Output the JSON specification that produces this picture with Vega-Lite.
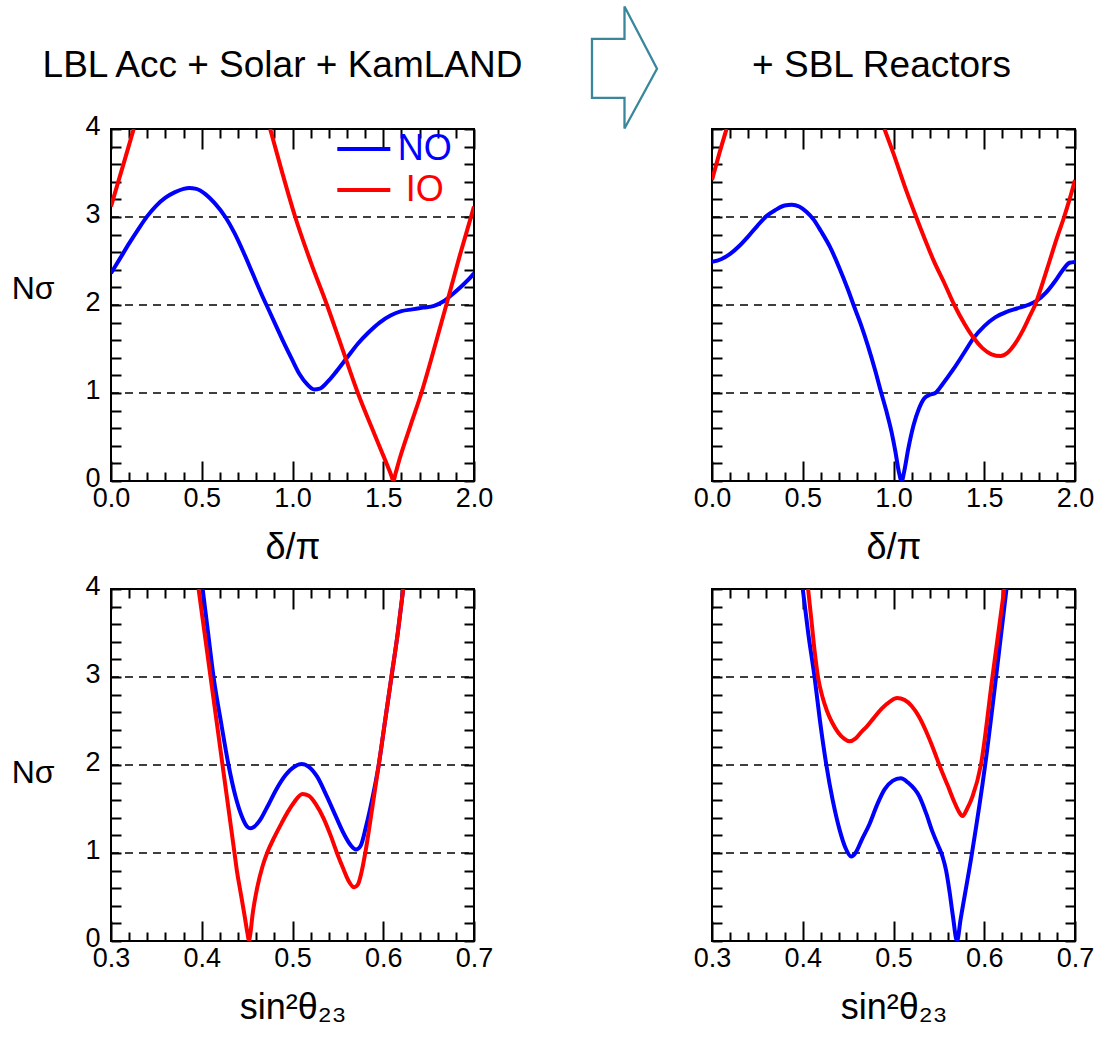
{
  "$schema": "https://vega.github.io/schema/vega-lite/v6.json",
  "autosize": {"type": "none"},
  "padding": {"left": 111, "top": 6, "right": 984, "bottom": 1031},
  "background": "white",
  "config": {
    "font": "Liberation Sans",
    "view": {"stroke": null},
    "axis": {
      "domain": false, "grid": false, "tickColor": "black", "tickWidth": 2,
      "labelColor": "black", "labelFont": "Liberation Sans", "labelFontSize": 27,
      "titleFont": "Liberation Sans", "titleFontWeight": "normal", "titleColor": "black",
      "labelFlush": false, "labelOverlap": false, "labelBound": false
    },
    "text": {"font": "Liberation Sans", "fontSize": 37, "color": "black"}
  },
  "datasets": {
    "headings": [{"panel": "left", "label": "LBL Acc + Solar + KamLAND"}, {"panel": "right", "label": "+ SBL Reactors"}],
    "top_left": [
      {"order": "NO", "branch": 1, "delta": 0, "nsigma": 2.36}, {"order": "NO", "branch": 1, "delta": 0.05, "nsigma": 2.53},
      {"order": "NO", "branch": 1, "delta": 0.1, "nsigma": 2.7}, {"order": "NO", "branch": 1, "delta": 0.15, "nsigma": 2.86},
      {"order": "NO", "branch": 1, "delta": 0.2, "nsigma": 3.01}, {"order": "NO", "branch": 1, "delta": 0.25, "nsigma": 3.13},
      {"order": "NO", "branch": 1, "delta": 0.3, "nsigma": 3.22}, {"order": "NO", "branch": 1, "delta": 0.35, "nsigma": 3.28},
      {"order": "NO", "branch": 1, "delta": 0.4, "nsigma": 3.32}, {"order": "NO", "branch": 1, "delta": 0.43, "nsigma": 3.33},
      {"order": "NO", "branch": 1, "delta": 0.47, "nsigma": 3.32}, {"order": "NO", "branch": 1, "delta": 0.52, "nsigma": 3.26},
      {"order": "NO", "branch": 1, "delta": 0.57, "nsigma": 3.16}, {"order": "NO", "branch": 1, "delta": 0.63, "nsigma": 3.0},
      {"order": "NO", "branch": 1, "delta": 0.68, "nsigma": 2.82}, {"order": "NO", "branch": 1, "delta": 0.73, "nsigma": 2.6},
      {"order": "NO", "branch": 1, "delta": 0.78, "nsigma": 2.36}, {"order": "NO", "branch": 1, "delta": 0.83, "nsigma": 2.12},
      {"order": "NO", "branch": 1, "delta": 0.87, "nsigma": 1.94}, {"order": "NO", "branch": 1, "delta": 0.91, "nsigma": 1.76},
      {"order": "NO", "branch": 1, "delta": 0.95, "nsigma": 1.58}, {"order": "NO", "branch": 1, "delta": 1.0, "nsigma": 1.37},
      {"order": "NO", "branch": 1, "delta": 1.04, "nsigma": 1.21}, {"order": "NO", "branch": 1, "delta": 1.08, "nsigma": 1.1},
      {"order": "NO", "branch": 1, "delta": 1.12, "nsigma": 1.04}, {"order": "NO", "branch": 1, "delta": 1.15, "nsigma": 1.05},
      {"order": "NO", "branch": 1, "delta": 1.19, "nsigma": 1.12}, {"order": "NO", "branch": 1, "delta": 1.24, "nsigma": 1.24},
      {"order": "NO", "branch": 1, "delta": 1.3, "nsigma": 1.4}, {"order": "NO", "branch": 1, "delta": 1.36, "nsigma": 1.56},
      {"order": "NO", "branch": 1, "delta": 1.42, "nsigma": 1.69}, {"order": "NO", "branch": 1, "delta": 1.48, "nsigma": 1.8},
      {"order": "NO", "branch": 1, "delta": 1.54, "nsigma": 1.88}, {"order": "NO", "branch": 1, "delta": 1.6, "nsigma": 1.93},
      {"order": "NO", "branch": 1, "delta": 1.66, "nsigma": 1.95}, {"order": "NO", "branch": 1, "delta": 1.72, "nsigma": 1.97},
      {"order": "NO", "branch": 1, "delta": 1.78, "nsigma": 1.99}, {"order": "NO", "branch": 1, "delta": 1.83, "nsigma": 2.04},
      {"order": "NO", "branch": 1, "delta": 1.88, "nsigma": 2.12}, {"order": "NO", "branch": 1, "delta": 1.93, "nsigma": 2.21},
      {"order": "NO", "branch": 1, "delta": 1.97, "nsigma": 2.29}, {"order": "NO", "branch": 1, "delta": 2.0, "nsigma": 2.36},
      {"order": "IO", "branch": 1, "delta": 0, "nsigma": 3.12}, {"order": "IO", "branch": 1, "delta": 0.04, "nsigma": 3.4},
      {"order": "IO", "branch": 1, "delta": 0.08, "nsigma": 3.68}, {"order": "IO", "branch": 1, "delta": 0.125, "nsigma": 4.0},
      {"order": "IO", "branch": 2, "delta": 0.877, "nsigma": 4.0}, {"order": "IO", "branch": 2, "delta": 0.94, "nsigma": 3.53},
      {"order": "IO", "branch": 2, "delta": 1.015, "nsigma": 3.0}, {"order": "IO", "branch": 2, "delta": 1.1, "nsigma": 2.49},
      {"order": "IO", "branch": 2, "delta": 1.19, "nsigma": 2.0}, {"order": "IO", "branch": 2, "delta": 1.27, "nsigma": 1.53},
      {"order": "IO", "branch": 2, "delta": 1.36, "nsigma": 1.0}, {"order": "IO", "branch": 2, "delta": 1.45, "nsigma": 0.54},
      {"order": "IO", "branch": 2, "delta": 1.51, "nsigma": 0.24}, {"order": "IO", "branch": 2, "delta": 1.545, "nsigma": 0.06},
      {"order": "IO", "branch": 2, "delta": 1.556, "nsigma": 0.0}, {"order": "IO", "branch": 2, "delta": 1.567, "nsigma": 0.08},
      {"order": "IO", "branch": 2, "delta": 1.59, "nsigma": 0.25}, {"order": "IO", "branch": 2, "delta": 1.65, "nsigma": 0.63},
      {"order": "IO", "branch": 2, "delta": 1.71, "nsigma": 1.0}, {"order": "IO", "branch": 2, "delta": 1.78, "nsigma": 1.5},
      {"order": "IO", "branch": 2, "delta": 1.85, "nsigma": 2.02}, {"order": "IO", "branch": 2, "delta": 1.92, "nsigma": 2.55},
      {"order": "IO", "branch": 2, "delta": 2.0, "nsigma": 3.12}
    ],
    "top_right": [
      {"order": "NO", "branch": 1, "delta": 0, "nsigma": 2.49}, {"order": "NO", "branch": 1, "delta": 0.05, "nsigma": 2.52},
      {"order": "NO", "branch": 1, "delta": 0.1, "nsigma": 2.58}, {"order": "NO", "branch": 1, "delta": 0.15, "nsigma": 2.67},
      {"order": "NO", "branch": 1, "delta": 0.2, "nsigma": 2.78}, {"order": "NO", "branch": 1, "delta": 0.25, "nsigma": 2.9},
      {"order": "NO", "branch": 1, "delta": 0.3, "nsigma": 3.01}, {"order": "NO", "branch": 1, "delta": 0.35, "nsigma": 3.08},
      {"order": "NO", "branch": 1, "delta": 0.4, "nsigma": 3.13}, {"order": "NO", "branch": 1, "delta": 0.44, "nsigma": 3.14},
      {"order": "NO", "branch": 1, "delta": 0.48, "nsigma": 3.12}, {"order": "NO", "branch": 1, "delta": 0.52, "nsigma": 3.06},
      {"order": "NO", "branch": 1, "delta": 0.56, "nsigma": 2.97}, {"order": "NO", "branch": 1, "delta": 0.6, "nsigma": 2.84},
      {"order": "NO", "branch": 1, "delta": 0.65, "nsigma": 2.66}, {"order": "NO", "branch": 1, "delta": 0.7, "nsigma": 2.43},
      {"order": "NO", "branch": 1, "delta": 0.75, "nsigma": 2.17}, {"order": "NO", "branch": 1, "delta": 0.78, "nsigma": 2.0},
      {"order": "NO", "branch": 1, "delta": 0.82, "nsigma": 1.78}, {"order": "NO", "branch": 1, "delta": 0.86, "nsigma": 1.53},
      {"order": "NO", "branch": 1, "delta": 0.9, "nsigma": 1.25}, {"order": "NO", "branch": 1, "delta": 0.93, "nsigma": 1.02},
      {"order": "NO", "branch": 1, "delta": 0.96, "nsigma": 0.8}, {"order": "NO", "branch": 1, "delta": 0.99, "nsigma": 0.55},
      {"order": "NO", "branch": 1, "delta": 1.01, "nsigma": 0.34}, {"order": "NO", "branch": 1, "delta": 1.03, "nsigma": 0.1},
      {"order": "NO", "branch": 1, "delta": 1.045, "nsigma": 0.0}, {"order": "NO", "branch": 1, "delta": 1.06, "nsigma": 0.12},
      {"order": "NO", "branch": 1, "delta": 1.08, "nsigma": 0.35}, {"order": "NO", "branch": 1, "delta": 1.11, "nsigma": 0.63},
      {"order": "NO", "branch": 1, "delta": 1.14, "nsigma": 0.82}, {"order": "NO", "branch": 1, "delta": 1.17, "nsigma": 0.94},
      {"order": "NO", "branch": 1, "delta": 1.2, "nsigma": 0.98}, {"order": "NO", "branch": 1, "delta": 1.23, "nsigma": 1.0},
      {"order": "NO", "branch": 1, "delta": 1.27, "nsigma": 1.1}, {"order": "NO", "branch": 1, "delta": 1.33, "nsigma": 1.27},
      {"order": "NO", "branch": 1, "delta": 1.39, "nsigma": 1.46}, {"order": "NO", "branch": 1, "delta": 1.44, "nsigma": 1.62},
      {"order": "NO", "branch": 1, "delta": 1.5, "nsigma": 1.76}, {"order": "NO", "branch": 1, "delta": 1.56, "nsigma": 1.86},
      {"order": "NO", "branch": 1, "delta": 1.62, "nsigma": 1.92}, {"order": "NO", "branch": 1, "delta": 1.68, "nsigma": 1.96},
      {"order": "NO", "branch": 1, "delta": 1.74, "nsigma": 2.0}, {"order": "NO", "branch": 1, "delta": 1.79, "nsigma": 2.05},
      {"order": "NO", "branch": 1, "delta": 1.84, "nsigma": 2.14}, {"order": "NO", "branch": 1, "delta": 1.89, "nsigma": 2.27},
      {"order": "NO", "branch": 1, "delta": 1.93, "nsigma": 2.39}, {"order": "NO", "branch": 1, "delta": 1.97, "nsigma": 2.48},
      {"order": "NO", "branch": 1, "delta": 2.0, "nsigma": 2.49},
      {"order": "IO", "branch": 1, "delta": 0, "nsigma": 3.42}, {"order": "IO", "branch": 1, "delta": 0.04, "nsigma": 3.72},
      {"order": "IO", "branch": 1, "delta": 0.08, "nsigma": 4.0},
      {"order": "IO", "branch": 2, "delta": 0.95, "nsigma": 4.0}, {"order": "IO", "branch": 2, "delta": 1.0, "nsigma": 3.72},
      {"order": "IO", "branch": 2, "delta": 1.06, "nsigma": 3.36}, {"order": "IO", "branch": 2, "delta": 1.125, "nsigma": 3.0},
      {"order": "IO", "branch": 2, "delta": 1.18, "nsigma": 2.71}, {"order": "IO", "branch": 2, "delta": 1.22, "nsigma": 2.51},
      {"order": "IO", "branch": 2, "delta": 1.28, "nsigma": 2.25}, {"order": "IO", "branch": 2, "delta": 1.335, "nsigma": 2.0},
      {"order": "IO", "branch": 2, "delta": 1.39, "nsigma": 1.79}, {"order": "IO", "branch": 2, "delta": 1.44, "nsigma": 1.63},
      {"order": "IO", "branch": 2, "delta": 1.49, "nsigma": 1.51}, {"order": "IO", "branch": 2, "delta": 1.54, "nsigma": 1.44},
      {"order": "IO", "branch": 2, "delta": 1.59, "nsigma": 1.42}, {"order": "IO", "branch": 2, "delta": 1.63, "nsigma": 1.46},
      {"order": "IO", "branch": 2, "delta": 1.67, "nsigma": 1.56}, {"order": "IO", "branch": 2, "delta": 1.71, "nsigma": 1.7},
      {"order": "IO", "branch": 2, "delta": 1.75, "nsigma": 1.87}, {"order": "IO", "branch": 2, "delta": 1.78, "nsigma": 2.0},
      {"order": "IO", "branch": 2, "delta": 1.82, "nsigma": 2.24}, {"order": "IO", "branch": 2, "delta": 1.86, "nsigma": 2.5},
      {"order": "IO", "branch": 2, "delta": 1.9, "nsigma": 2.76}, {"order": "IO", "branch": 2, "delta": 1.94, "nsigma": 3.0},
      {"order": "IO", "branch": 2, "delta": 1.97, "nsigma": 3.2}, {"order": "IO", "branch": 2, "delta": 2.0, "nsigma": 3.42}
    ],
    "bottom_left": [
      {"order": "NO", "s23": 0.401, "nsigma": 4.0}, {"order": "NO", "s23": 0.407, "nsigma": 3.5},
      {"order": "NO", "s23": 0.413, "nsigma": 3.0}, {"order": "NO", "s23": 0.421, "nsigma": 2.5},
      {"order": "NO", "s23": 0.4295, "nsigma": 2.0}, {"order": "NO", "s23": 0.437, "nsigma": 1.65},
      {"order": "NO", "s23": 0.444, "nsigma": 1.42}, {"order": "NO", "s23": 0.45, "nsigma": 1.3},
      {"order": "NO", "s23": 0.454, "nsigma": 1.28}, {"order": "NO", "s23": 0.458, "nsigma": 1.3},
      {"order": "NO", "s23": 0.464, "nsigma": 1.37}, {"order": "NO", "s23": 0.472, "nsigma": 1.52},
      {"order": "NO", "s23": 0.482, "nsigma": 1.72}, {"order": "NO", "s23": 0.492, "nsigma": 1.88},
      {"order": "NO", "s23": 0.502, "nsigma": 1.98}, {"order": "NO", "s23": 0.51, "nsigma": 2.01},
      {"order": "NO", "s23": 0.518, "nsigma": 1.98}, {"order": "NO", "s23": 0.527, "nsigma": 1.87},
      {"order": "NO", "s23": 0.538, "nsigma": 1.64}, {"order": "NO", "s23": 0.548, "nsigma": 1.41},
      {"order": "NO", "s23": 0.557, "nsigma": 1.21}, {"order": "NO", "s23": 0.564, "nsigma": 1.09},
      {"order": "NO", "s23": 0.57, "nsigma": 1.04}, {"order": "NO", "s23": 0.575, "nsigma": 1.08},
      {"order": "NO", "s23": 0.581, "nsigma": 1.3}, {"order": "NO", "s23": 0.588, "nsigma": 1.62},
      {"order": "NO", "s23": 0.595, "nsigma": 2.0}, {"order": "NO", "s23": 0.602, "nsigma": 2.5},
      {"order": "NO", "s23": 0.609, "nsigma": 3.0}, {"order": "NO", "s23": 0.616, "nsigma": 3.5},
      {"order": "NO", "s23": 0.622, "nsigma": 4.0},
      {"order": "IO", "s23": 0.3965, "nsigma": 4.0}, {"order": "IO", "s23": 0.4097, "nsigma": 3.0},
      {"order": "IO", "s23": 0.4229, "nsigma": 2.0}, {"order": "IO", "s23": 0.4361, "nsigma": 1.0},
      {"order": "IO", "s23": 0.4387, "nsigma": 0.8}, {"order": "IO", "s23": 0.4425, "nsigma": 0.57},
      {"order": "IO", "s23": 0.447, "nsigma": 0.3}, {"order": "IO", "s23": 0.4505, "nsigma": 0.08},
      {"order": "IO", "s23": 0.452, "nsigma": 0.0}, {"order": "IO", "s23": 0.4535, "nsigma": 0.08},
      {"order": "IO", "s23": 0.456, "nsigma": 0.3}, {"order": "IO", "s23": 0.461, "nsigma": 0.6},
      {"order": "IO", "s23": 0.467, "nsigma": 0.85}, {"order": "IO", "s23": 0.472, "nsigma": 1.0},
      {"order": "IO", "s23": 0.48, "nsigma": 1.18}, {"order": "IO", "s23": 0.488, "nsigma": 1.34},
      {"order": "IO", "s23": 0.495, "nsigma": 1.47}, {"order": "IO", "s23": 0.502, "nsigma": 1.58},
      {"order": "IO", "s23": 0.511, "nsigma": 1.67}, {"order": "IO", "s23": 0.518, "nsigma": 1.65},
      {"order": "IO", "s23": 0.526, "nsigma": 1.55}, {"order": "IO", "s23": 0.534, "nsigma": 1.4},
      {"order": "IO", "s23": 0.542, "nsigma": 1.2}, {"order": "IO", "s23": 0.549, "nsigma": 1.0},
      {"order": "IO", "s23": 0.556, "nsigma": 0.82}, {"order": "IO", "s23": 0.562, "nsigma": 0.68},
      {"order": "IO", "s23": 0.568, "nsigma": 0.61}, {"order": "IO", "s23": 0.572, "nsigma": 0.64},
      {"order": "IO", "s23": 0.576, "nsigma": 0.78}, {"order": "IO", "s23": 0.581, "nsigma": 1.05},
      {"order": "IO", "s23": 0.588, "nsigma": 1.52}, {"order": "IO", "s23": 0.595, "nsigma": 2.0},
      {"order": "IO", "s23": 0.602, "nsigma": 2.5}, {"order": "IO", "s23": 0.609, "nsigma": 3.0},
      {"order": "IO", "s23": 0.616, "nsigma": 3.5}, {"order": "IO", "s23": 0.622, "nsigma": 4.0}
    ],
    "bottom_right": [
      {"order": "NO", "s23": 0.4, "nsigma": 4.0}, {"order": "NO", "s23": 0.406, "nsigma": 3.5},
      {"order": "NO", "s23": 0.413, "nsigma": 3.0}, {"order": "NO", "s23": 0.419, "nsigma": 2.5},
      {"order": "NO", "s23": 0.426, "nsigma": 2.0}, {"order": "NO", "s23": 0.433, "nsigma": 1.6},
      {"order": "NO", "s23": 0.4407, "nsigma": 1.26}, {"order": "NO", "s23": 0.447, "nsigma": 1.06},
      {"order": "NO", "s23": 0.4535, "nsigma": 0.96}, {"order": "NO", "s23": 0.458, "nsigma": 1.0},
      {"order": "NO", "s23": 0.465, "nsigma": 1.15}, {"order": "NO", "s23": 0.4736, "nsigma": 1.33},
      {"order": "NO", "s23": 0.482, "nsigma": 1.55}, {"order": "NO", "s23": 0.49, "nsigma": 1.72},
      {"order": "NO", "s23": 0.499, "nsigma": 1.82}, {"order": "NO", "s23": 0.508, "nsigma": 1.85},
      {"order": "NO", "s23": 0.516, "nsigma": 1.8}, {"order": "NO", "s23": 0.5286, "nsigma": 1.64},
      {"order": "NO", "s23": 0.536, "nsigma": 1.45}, {"order": "NO", "s23": 0.543, "nsigma": 1.24},
      {"order": "NO", "s23": 0.549, "nsigma": 1.09}, {"order": "NO", "s23": 0.554, "nsigma": 0.96},
      {"order": "NO", "s23": 0.558, "nsigma": 0.8}, {"order": "NO", "s23": 0.5615, "nsigma": 0.58},
      {"order": "NO", "s23": 0.5655, "nsigma": 0.28}, {"order": "NO", "s23": 0.57, "nsigma": 0.0},
      {"order": "NO", "s23": 0.574, "nsigma": 0.25}, {"order": "NO", "s23": 0.5865, "nsigma": 1.0},
      {"order": "NO", "s23": 0.601, "nsigma": 2.0}, {"order": "NO", "s23": 0.613, "nsigma": 3.0},
      {"order": "NO", "s23": 0.6245, "nsigma": 4.0},
      {"order": "IO", "s23": 0.4059, "nsigma": 4.0}, {"order": "IO", "s23": 0.4095, "nsigma": 3.65},
      {"order": "IO", "s23": 0.413, "nsigma": 3.3}, {"order": "IO", "s23": 0.4168, "nsigma": 3.0},
      {"order": "IO", "s23": 0.4215, "nsigma": 2.78}, {"order": "IO", "s23": 0.4265, "nsigma": 2.62},
      {"order": "IO", "s23": 0.4325, "nsigma": 2.48}, {"order": "IO", "s23": 0.439, "nsigma": 2.37},
      {"order": "IO", "s23": 0.4455, "nsigma": 2.3}, {"order": "IO", "s23": 0.4516, "nsigma": 2.27},
      {"order": "IO", "s23": 0.458, "nsigma": 2.3}, {"order": "IO", "s23": 0.465, "nsigma": 2.38},
      {"order": "IO", "s23": 0.47, "nsigma": 2.43}, {"order": "IO", "s23": 0.478, "nsigma": 2.53},
      {"order": "IO", "s23": 0.487, "nsigma": 2.64}, {"order": "IO", "s23": 0.496, "nsigma": 2.72},
      {"order": "IO", "s23": 0.504, "nsigma": 2.76}, {"order": "IO", "s23": 0.512, "nsigma": 2.74},
      {"order": "IO", "s23": 0.52, "nsigma": 2.67}, {"order": "IO", "s23": 0.528, "nsigma": 2.55},
      {"order": "IO", "s23": 0.536, "nsigma": 2.38}, {"order": "IO", "s23": 0.544, "nsigma": 2.18},
      {"order": "IO", "s23": 0.552, "nsigma": 1.96}, {"order": "IO", "s23": 0.56, "nsigma": 1.76},
      {"order": "IO", "s23": 0.567, "nsigma": 1.58}, {"order": "IO", "s23": 0.572, "nsigma": 1.47},
      {"order": "IO", "s23": 0.5762, "nsigma": 1.42}, {"order": "IO", "s23": 0.581, "nsigma": 1.5},
      {"order": "IO", "s23": 0.587, "nsigma": 1.64}, {"order": "IO", "s23": 0.5963, "nsigma": 2.0},
      {"order": "IO", "s23": 0.609, "nsigma": 3.0}, {"order": "IO", "s23": 0.622, "nsigma": 4.0}
    ],
    "sigma_levels": [{"nsigma": 1}, {"nsigma": 2}, {"nsigma": 3}]
  },
  "columns": 4,
  "spacing": {"row": 0, "column": 0},
  "align": "each",
  "bounds": "flush",
  "resolve": {"scale": {"color": "independent"}, "legend": {"color": "independent"}},
  "concat": [
    {
      "width": 363, "height": 123,
      "data": {"name": "headings"},
      "transform": [{"filter": "datum.panel === 'left'"}],
      "mark": {"type": "text", "baseline": "alphabetic", "align": "center", "dx": -10, "dy": 9},
      "encoding": {"text": {"field": "label"}}
    },
    {"width": 63, "height": 1, "data": {"values": []}, "mark": "text"},
    {
      "width": 175, "height": 123,
      "data": {"values": [{"step": "add SBL reactors"}]},
      "mark": {
        "type": "point", "filled": false, "opacity": 1,
        "shape": "M-0.533,-0.47L0,-0.47L0,-1L0.533,0.02L0,1L0,0.497L-0.533,0.497Z",
        "size": 14884, "stroke": "#3a879c", "strokeWidth": 2.3, "strokeJoin": "miter"
      }
    },
    {
      "width": 363, "height": 123,
      "data": {"name": "headings"},
      "transform": [{"filter": "datum.panel === 'right'"}],
      "mark": {"type": "text", "baseline": "alphabetic", "align": "center", "dx": -12, "dy": 9},
      "encoding": {"text": {"field": "label"}}
    },
    {
      "width": 363, "height": 352,
      "view": {"stroke": "black", "strokeWidth": 2},
      "layer": [
        {
          "data": {"name": "sigma_levels"},
          "mark": {"type": "rule", "color": "black", "strokeWidth": 1.5, "strokeDash": [8, 6]},
          "encoding": {
            "x": {"datum": 0, "type": "quantitative", "scale": {"domain": [0, 2], "nice": false},
              "axis": {"orient": "top", "values": [0,0.1,0.2,0.3,0.4,0.5,0.6,0.7,0.8,0.9,1,1.1,1.2,1.3,1.4,1.5,1.6,1.7,1.8,1.9,2],
                "tickSize": {"condition": {"test": "abs(datum.value*2 - round(datum.value*2)) < 0.001", "value": -20}, "value": -9},
                "labels": false, "title": null}},
            "x2": {"datum": 2},
            "y": {"field": "nsigma", "type": "quantitative", "scale": {"domain": [0, 4], "nice": false},
              "axis": {"orient": "right", "values": [0,0.2,0.4,0.6,0.8,1,1.2,1.4,1.6,1.8,2,2.2,2.4,2.6,2.8,3,3.2,3.4,3.6,3.8,4],
                "tickSize": -10, "labels": false, "title": null}}
          }
        },
        {
          "data": {"name": "top_left"},
          "mark": {"type": "line", "strokeWidth": 4, "interpolate": "monotone", "clip": true},
          "encoding": {
            "x": {"field": "delta", "type": "quantitative", "scale": {"domain": [0, 2], "nice": false},
              "axis": {"orient": "bottom", "values": [0,0.1,0.2,0.3,0.4,0.5,0.6,0.7,0.8,0.9,1,1.1,1.2,1.3,1.4,1.5,1.6,1.7,1.8,1.9,2],
                "tickSize": {"condition": {"test": "abs(datum.value*2 - round(datum.value*2)) < 0.001", "value": -20}, "value": -9},
                "labelExpr": "abs(datum.value*2 - round(datum.value*2)) < 0.001 ? format(datum.value, '.1f') : ''",
                "labelPadding": 24, "title": "δ/π", "titleFontSize": 36, "titlePadding": 8}},
            "y": {"field": "nsigma", "type": "quantitative", "scale": {"domain": [0, 4], "nice": false},
              "axis": {"orient": "left", "values": [0,0.2,0.4,0.6,0.8,1,1.2,1.4,1.6,1.8,2,2.2,2.4,2.6,2.8,3,3.2,3.4,3.6,3.8,4],
                "tickSize": -10, "labelPadding": 21, "labelOffset": -3,
                "labelExpr": "abs(datum.value - round(datum.value)) < 0.001 ? format(datum.value, 'd') : ''",
                "title": "Nσ", "titleFontSize": 32, "titleAngle": 0, "titleAlign": "right", "titleBaseline": "middle", "titleX": -57, "titleY": 159}},
            "color": {"field": "order", "type": "nominal", "scale": {"domain": ["NO", "IO"], "range": ["#0000ff", "#ff0000"]},
              "legend": {"orient": "none", "legendX": 232.8, "legendY": 0, "title": null, "padding": 0,
                "symbolType": "M-1.5,0H1.5", "symbolSize": 1248, "symbolStrokeWidth": 4,
                "labelFontSize": 36, "labelFont": "Liberation Sans", "labelAlign": "center", "labelBaseline": "middle",
                "labelOffset": 41, "rowPadding": 3,
                "labelColor": {"expr": "datum.value === 'NO' ? '#0000ff' : '#ff0000'"}}},
            "detail": {"field": "branch"}
          }
        }
      ],
      "resolve": {"axis": {"x": "independent", "y": "independent"}}
    },
    {"width": 1, "height": 1, "data": {"values": []}, "mark": "text"},
    {"width": 1, "height": 1, "data": {"values": []}, "mark": "text"},
    {
      "width": 363, "height": 352,
      "view": {"stroke": "black", "strokeWidth": 2},
      "layer": [
        {
          "data": {"name": "sigma_levels"},
          "mark": {"type": "rule", "color": "black", "strokeWidth": 1.5, "strokeDash": [8, 6]},
          "encoding": {
            "x": {"datum": 0, "type": "quantitative", "scale": {"domain": [0, 2], "nice": false},
              "axis": {"orient": "top", "values": [0,0.1,0.2,0.3,0.4,0.5,0.6,0.7,0.8,0.9,1,1.1,1.2,1.3,1.4,1.5,1.6,1.7,1.8,1.9,2],
                "tickSize": {"condition": {"test": "abs(datum.value*2 - round(datum.value*2)) < 0.001", "value": -20}, "value": -9},
                "labels": false, "title": null}},
            "x2": {"datum": 2},
            "y": {"field": "nsigma", "type": "quantitative", "scale": {"domain": [0, 4], "nice": false},
              "axis": {"orient": "right", "values": [0,0.2,0.4,0.6,0.8,1,1.2,1.4,1.6,1.8,2,2.2,2.4,2.6,2.8,3,3.2,3.4,3.6,3.8,4],
                "tickSize": -10, "labels": false, "title": null}}
          }
        },
        {
          "data": {"name": "top_right"},
          "mark": {"type": "line", "strokeWidth": 4, "interpolate": "monotone", "clip": true},
          "encoding": {
            "x": {"field": "delta", "type": "quantitative", "scale": {"domain": [0, 2], "nice": false},
              "axis": {"orient": "bottom", "values": [0,0.1,0.2,0.3,0.4,0.5,0.6,0.7,0.8,0.9,1,1.1,1.2,1.3,1.4,1.5,1.6,1.7,1.8,1.9,2],
                "tickSize": {"condition": {"test": "abs(datum.value*2 - round(datum.value*2)) < 0.001", "value": -20}, "value": -9},
                "labelExpr": "abs(datum.value*2 - round(datum.value*2)) < 0.001 ? format(datum.value, '.1f') : ''",
                "labelPadding": 24, "title": "δ/π", "titleFontSize": 36, "titlePadding": 8}},
            "y": {"field": "nsigma", "type": "quantitative", "scale": {"domain": [0, 4], "nice": false},
              "axis": {"orient": "left", "values": [0,0.2,0.4,0.6,0.8,1,1.2,1.4,1.6,1.8,2,2.2,2.4,2.6,2.8,3,3.2,3.4,3.6,3.8,4],
                "tickSize": -10, "labels": false, "title": null}},
            "color": {"field": "order", "type": "nominal", "scale": {"domain": ["NO", "IO"], "range": ["#0000ff", "#ff0000"]}, "legend": null},
            "detail": {"field": "branch"}
          }
        }
      ],
      "resolve": {"axis": {"x": "independent", "y": "independent"}}
    },
    {"width": 1, "height": 108, "data": {"values": []}, "mark": "text"},
    {"width": 1, "height": 1, "data": {"values": []}, "mark": "text"},
    {"width": 1, "height": 1, "data": {"values": []}, "mark": "text"},
    {"width": 1, "height": 1, "data": {"values": []}, "mark": "text"},
    {
      "width": 363, "height": 352,
      "view": {"stroke": "black", "strokeWidth": 2},
      "layer": [
        {
          "data": {"name": "sigma_levels"},
          "mark": {"type": "rule", "color": "black", "strokeWidth": 1.5, "strokeDash": [8, 6]},
          "encoding": {
            "x": {"datum": 0.3, "type": "quantitative", "scale": {"domain": [0.3, 0.7], "nice": false, "zero": false},
              "axis": {"orient": "top", "values": [0.3,0.32,0.34,0.36,0.38,0.4,0.42,0.44,0.46,0.48,0.5,0.52,0.54,0.56,0.58,0.6,0.62,0.64,0.66,0.68,0.7],
                "tickSize": {"condition": {"test": "abs(datum.value*10 - round(datum.value*10)) < 0.001", "value": -20}, "value": -9},
                "labels": false, "title": null}},
            "x2": {"datum": 0.7},
            "y": {"field": "nsigma", "type": "quantitative", "scale": {"domain": [0, 4], "nice": false},
              "axis": {"orient": "right", "values": [0,0.2,0.4,0.6,0.8,1,1.2,1.4,1.6,1.8,2,2.2,2.4,2.6,2.8,3,3.2,3.4,3.6,3.8,4],
                "tickSize": -10, "labels": false, "title": null}}
          }
        },
        {
          "data": {"name": "bottom_left"},
          "mark": {"type": "line", "strokeWidth": 4, "interpolate": "monotone", "clip": true},
          "encoding": {
            "x": {"field": "s23", "type": "quantitative", "scale": {"domain": [0.3, 0.7], "nice": false, "zero": false},
              "axis": {"orient": "bottom", "values": [0.3,0.32,0.34,0.36,0.38,0.4,0.42,0.44,0.46,0.48,0.5,0.52,0.54,0.56,0.58,0.6,0.62,0.64,0.66,0.68,0.7],
                "tickSize": {"condition": {"test": "abs(datum.value*10 - round(datum.value*10)) < 0.001", "value": -20}, "value": -9},
                "labelExpr": "abs(datum.value*10 - round(datum.value*10)) < 0.001 ? format(datum.value, '.1f') : ''",
                "labelPadding": 24, "title": "sin²θ₂₃", "titleFontSize": 36, "titlePadding": 8}},
            "y": {"field": "nsigma", "type": "quantitative", "scale": {"domain": [0, 4], "nice": false},
              "axis": {"orient": "left", "values": [0,0.2,0.4,0.6,0.8,1,1.2,1.4,1.6,1.8,2,2.2,2.4,2.6,2.8,3,3.2,3.4,3.6,3.8,4],
                "tickSize": -10, "labelPadding": 21, "labelOffset": -3,
                "labelExpr": "abs(datum.value - round(datum.value)) < 0.001 ? format(datum.value, 'd') : ''",
                "title": "Nσ", "titleFontSize": 32, "titleAngle": 0, "titleAlign": "right", "titleBaseline": "middle", "titleX": -57, "titleY": 183}},
            "color": {"field": "order", "type": "nominal", "scale": {"domain": ["NO", "IO"], "range": ["#0000ff", "#ff0000"]}, "legend": null}
          }
        }
      ],
      "resolve": {"axis": {"x": "independent", "y": "independent"}}
    },
    {"width": 1, "height": 1, "data": {"values": []}, "mark": "text"},
    {"width": 1, "height": 1, "data": {"values": []}, "mark": "text"},
    {
      "width": 363, "height": 352,
      "view": {"stroke": "black", "strokeWidth": 2},
      "layer": [
        {
          "data": {"name": "sigma_levels"},
          "mark": {"type": "rule", "color": "black", "strokeWidth": 1.5, "strokeDash": [8, 6]},
          "encoding": {
            "x": {"datum": 0.3, "type": "quantitative", "scale": {"domain": [0.3, 0.7], "nice": false, "zero": false},
              "axis": {"orient": "top", "values": [0.3,0.32,0.34,0.36,0.38,0.4,0.42,0.44,0.46,0.48,0.5,0.52,0.54,0.56,0.58,0.6,0.62,0.64,0.66,0.68,0.7],
                "tickSize": {"condition": {"test": "abs(datum.value*10 - round(datum.value*10)) < 0.001", "value": -20}, "value": -9},
                "labels": false, "title": null}},
            "x2": {"datum": 0.7},
            "y": {"field": "nsigma", "type": "quantitative", "scale": {"domain": [0, 4], "nice": false},
              "axis": {"orient": "right", "values": [0,0.2,0.4,0.6,0.8,1,1.2,1.4,1.6,1.8,2,2.2,2.4,2.6,2.8,3,3.2,3.4,3.6,3.8,4],
                "tickSize": -10, "labels": false, "title": null}}
          }
        },
        {
          "data": {"name": "bottom_right"},
          "mark": {"type": "line", "strokeWidth": 4, "interpolate": "monotone", "clip": true},
          "encoding": {
            "x": {"field": "s23", "type": "quantitative", "scale": {"domain": [0.3, 0.7], "nice": false, "zero": false},
              "axis": {"orient": "bottom", "values": [0.3,0.32,0.34,0.36,0.38,0.4,0.42,0.44,0.46,0.48,0.5,0.52,0.54,0.56,0.58,0.6,0.62,0.64,0.66,0.68,0.7],
                "tickSize": {"condition": {"test": "abs(datum.value*10 - round(datum.value*10)) < 0.001", "value": -20}, "value": -9},
                "labelExpr": "abs(datum.value*10 - round(datum.value*10)) < 0.001 ? format(datum.value, '.1f') : ''",
                "labelPadding": 24, "title": "sin²θ₂₃", "titleFontSize": 36, "titlePadding": 8}},
            "y": {"field": "nsigma", "type": "quantitative", "scale": {"domain": [0, 4], "nice": false},
              "axis": {"orient": "left", "values": [0,0.2,0.4,0.6,0.8,1,1.2,1.4,1.6,1.8,2,2.2,2.4,2.6,2.8,3,3.2,3.4,3.6,3.8,4],
                "tickSize": -10, "labels": false, "title": null}},
            "color": {"field": "order", "type": "nominal", "scale": {"domain": ["NO", "IO"], "range": ["#0000ff", "#ff0000"]}, "legend": null}
          }
        }
      ],
      "resolve": {"axis": {"x": "independent", "y": "independent"}}
    }
  ]
}
